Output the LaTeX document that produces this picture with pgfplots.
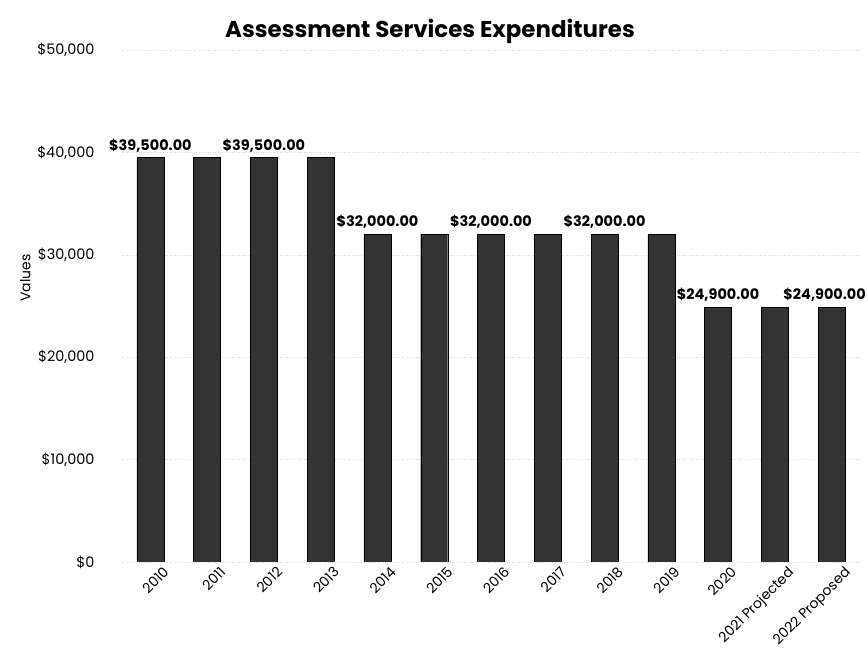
\documentclass[border=0pt]{standalone}
\usepackage{pgfplots}
\usepackage{pgfplotstable}
\pgfplotsset{compat=1.18}
\usepackage{fontspec}
\setmainfont{Poppins}
\pgfplotstableread{
x y lab
0 39500 {\$39,500.00}
1 39500 {}
2 39500 {\$39,500.00}
3 39500 {}
4 32000 {\$32,000.00}
5 32000 {}
6 32000 {\$32,000.00}
7 32000 {}
8 32000 {\$32,000.00}
9 32000 {}
10 24900 {\$24,900.00}
11 24900 {}
12 24900 {\$24,900.00\hspace*{14bp}}
}\datatable
\begin{document}
\begin{tikzpicture}[x=1bp,y=1bp]
\path[use as bounding box] (0,0) rectangle (868,653);
\begin{axis}[
  at={(122bp,91bp)}, anchor=south west,
  scale only axis, width=738bp, height=512bp,
  xmin=-0.5, xmax=12.5, ymin=0, ymax=50000,
  axis line style={draw=none},
  tick style={draw=none},
  scaled y ticks=false,
  ytick={0,10000,20000,30000,40000,50000},
  yticklabels={\$0,{\$10,000},{\$20,000},{\$30,000},{\$40,000},{\$50,000}},
  yticklabel style={font=\fontsize{14.5}{16}\selectfont, xshift=-24bp},
  xtick={0,...,12},
  xticklabels={2010,2011,2012,2013,2014,2015,2016,2017,2018,2019,2020,2021 Projected,2022 Proposed},
  xticklabel style={font=\fontsize{14}{16}\selectfont, rotate=45, anchor=north east, inner sep=0bp, yshift=-11bp, xshift=6bp},
  ymajorgrids, grid style={gray!30, dotted},
  ylabel={Values}, ylabel style={font=\fontsize{14}{16}\selectfont, at={(ticklabel cs:0.57)}, xshift=-8bp},
  nodes near coords style={font=\bfseries\fontsize{14.5}{16}\selectfont, anchor=south, yshift=2bp},
]
\addplot[ybar, bar width=27bp, fill=black!80, draw=black,
  point meta=explicit symbolic, nodes near coords]
  table[x=x, y=y, meta=lab] {\datatable};
\end{axis}
\node[font=\bfseries\fontsize{23}{26}\selectfont] at (430,622) {Assessment Services Expenditures};
\end{tikzpicture}
\end{document}
